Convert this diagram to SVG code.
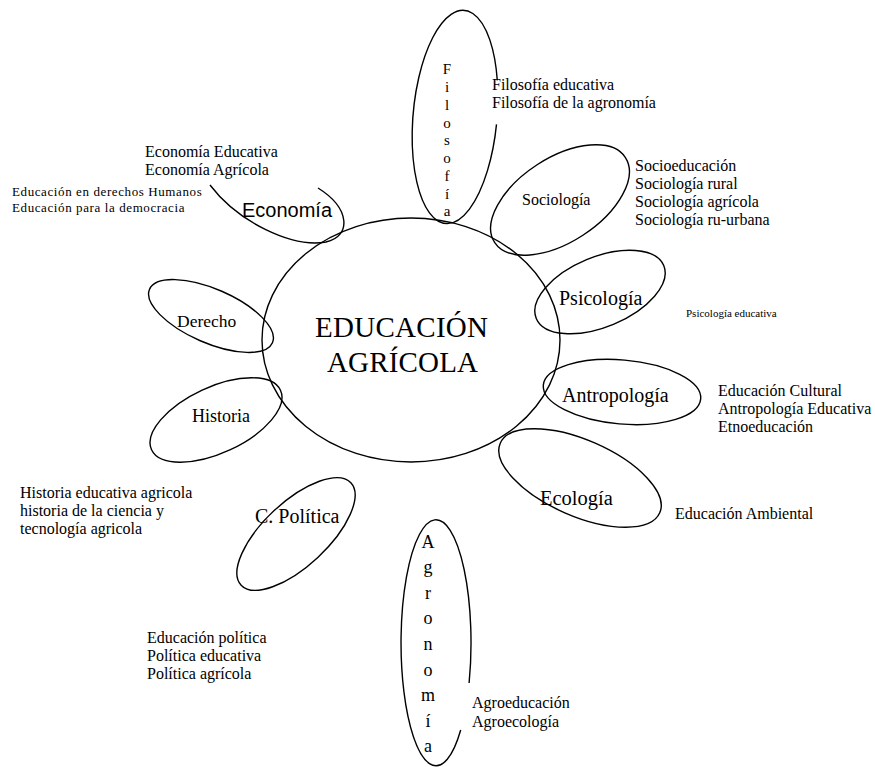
<svg xmlns="http://www.w3.org/2000/svg" width="875" height="767" viewBox="0 0 875 767">
  <style>
    .ring { fill: none; stroke: #000; stroke-width: 1.4; }
    .lbl { font-family: "Liberation Serif", "Times New Roman", serif; fill: #000; }
    .sans { font-family: "Liberation Sans", Arial, sans-serif; fill: #000; }
    .list { font-family: "Liberation Serif", "Times New Roman", serif; font-size: 16px; fill: #000; }
    .mid { text-anchor: middle; }
  </style>
  <rect width="875" height="767" fill="#fff"/>

  <!-- central topic -->
  <g id="centro">
    <ellipse class="ring" cx="411" cy="340" rx="149" ry="122"/>
    <text class="lbl" x="315" y="337" font-size="29" textLength="173">EDUCACIÓN</text>
    <text class="lbl" x="327" y="372" font-size="29" textLength="151">AGRÍCOLA</text>
  </g>

  <!-- Filosofía: tall ellipse, open where its captions start -->
  <g id="filosofia">
    <path class="ring" d="M497.3,80.4 A42,107 5 1 0 496.5,124.4"/>
    <g class="lbl mid" font-size="15">
      <text x="447" y="74">F</text>
      <text x="447" y="92">i</text>
      <text x="447" y="110">l</text>
      <text x="447" y="128">o</text>
      <text x="447" y="145">s</text>
      <text x="447" y="163">o</text>
      <text x="447" y="181">f</text>
      <text x="447" y="199">í</text>
      <text x="447" y="216">a</text>
    </g>
    <text class="list" x="492" y="90">Filosofía educativa</text>
    <text class="list" x="492" y="108">Filosofía de la agronomía</text>
  </g>

  <!-- Economía: open arc -->
  <g id="economia">
    <path class="ring" d="M210,185 C238,222 292,248 326,242 C352,236 350,208 318,188"/>
    <text class="sans" x="242" y="217" font-size="20">Economía</text>
    <text class="list" x="145" y="157">Economía Educativa</text>
    <text class="list" x="145" y="175">Economía Agrícola</text>
  </g>

  <!-- Derecho -->
  <g id="derecho">
    <ellipse class="ring" cx="211" cy="316" rx="67" ry="27" transform="rotate(23.5 211 316)"/>
    <text class="lbl" x="177" y="327" font-size="17.5">Derecho</text>
    <text class="lbl" x="12" y="196" font-size="13" letter-spacing="0.6">Educación en derechos Humanos</text>
    <text class="lbl" x="12" y="212" font-size="13" letter-spacing="0.6">Educación para la democracia</text>
  </g>

  <!-- Historia -->
  <g id="historia">
    <ellipse class="ring" cx="216" cy="420" rx="71" ry="33" transform="rotate(-24.8 216 420)"/>
    <text class="lbl" x="192" y="422" font-size="18">Historia</text>
    <text class="list" x="20" y="498">Historia educativa agricola</text>
    <text class="list" x="20" y="516">historia de la ciencia y</text>
    <text class="list" x="20" y="534">tecnología agricola</text>
  </g>

  <!-- C. Política -->
  <g id="cpolitica">
    <ellipse class="ring" cx="296" cy="534" rx="75" ry="32" transform="rotate(-43 296 534)"/>
    <text class="lbl" x="255" y="523" font-size="20">C. Política</text>
    <text class="list" x="147" y="643">Educación política</text>
    <text class="list" x="147" y="661">Política educativa</text>
    <text class="list" x="147" y="679">Política agrícola</text>
  </g>

  <!-- Agronomía: tall ellipse, open beside its captions -->
  <g id="agronomia">
    <path class="ring" d="M469.1,683 A35,123 0 1 0 460.7,730"/>
    <g class="lbl mid" font-size="18">
      <text x="428" y="548">A</text>
      <text x="428" y="573">g</text>
      <text x="428" y="599">r</text>
      <text x="428" y="624">o</text>
      <text x="428" y="650">n</text>
      <text x="428" y="676">o</text>
      <text x="428" y="701">m</text>
      <text x="428" y="727">í</text>
      <text x="428" y="752">a</text>
    </g>
    <text class="list" x="472" y="708">Agroeducación</text>
    <text class="list" x="472" y="727">Agroecología</text>
  </g>

  <!-- Ecología -->
  <g id="ecologia">
    <ellipse class="ring" cx="580" cy="478" rx="87" ry="38" transform="rotate(23.6 580 478)"/>
    <text class="lbl" x="540" y="505" font-size="20.5">Ecología</text>
    <text class="list" x="675" y="519">Educación Ambiental</text>
  </g>

  <!-- Antropología -->
  <g id="antropologia">
    <ellipse class="ring" cx="622" cy="392" rx="79" ry="32" transform="rotate(5 622 392)"/>
    <text class="lbl" x="562" y="402" font-size="20">Antropología</text>
    <text class="list" x="718" y="396">Educación Cultural</text>
    <text class="list" x="718" y="414">Antropología Educativa</text>
    <text class="list" x="718" y="432">Etnoeducación</text>
  </g>

  <!-- Psicología -->
  <g id="psicologia">
    <ellipse class="ring" cx="600" cy="292" rx="69" ry="35" transform="rotate(-22.5 600 292)"/>
    <text class="lbl" x="559" y="305" font-size="20">Psicología</text>
    <text class="lbl" x="686" y="317" font-size="11">Psicología educativa</text>
  </g>

  <!-- Sociología -->
  <g id="sociologia">
    <ellipse class="ring" cx="560" cy="200" rx="78" ry="42" transform="rotate(-33 560 200)"/>
    <text class="lbl" x="522" y="205" font-size="16">Sociología</text>
    <text class="list" x="635" y="171">Socioeducación</text>
    <text class="list" x="635" y="189">Sociología rural</text>
    <text class="list" x="635" y="207">Sociología agrícola</text>
    <text class="list" x="635" y="225">Sociología ru-urbana</text>
  </g>
</svg>
